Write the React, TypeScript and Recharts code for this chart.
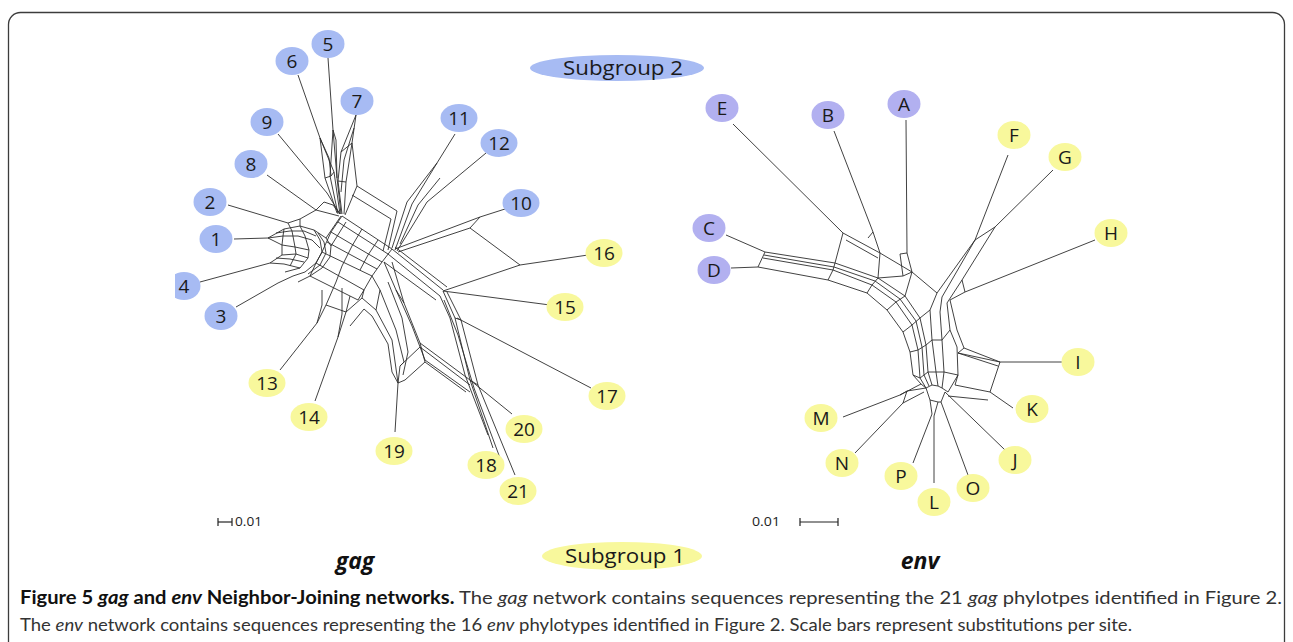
import React from 'react';
import { ScatterChart, Scatter, XAxis, YAxis } from 'recharts';

type P = [number, number];
type NodeRow = { label: string; x: number; y: number; group: string };

// ---- node (phylotype) positions, in figure units ----
const gagNodes: NodeRow[] = [
  { label: '5', x: 328, y: 44, group: 'gag2' },
  { label: '6', x: 292, y: 61, group: 'gag2' },
  { label: '7', x: 357, y: 101, group: 'gag2' },
  { label: '9', x: 267, y: 122, group: 'gag2' },
  { label: '11', x: 459, y: 118, group: 'gag2' },
  { label: '8', x: 251, y: 164, group: 'gag2' },
  { label: '12', x: 499, y: 143, group: 'gag2' },
  { label: '10', x: 521, y: 203, group: 'gag2' },
  { label: '2', x: 210, y: 202, group: 'gag2' },
  { label: '1', x: 216, y: 239, group: 'gag2' },
  { label: '4', x: 184, y: 286, group: 'gag2' },
  { label: '3', x: 221, y: 316, group: 'gag2' },
  { label: '16', x: 604, y: 253, group: 'sub1' },
  { label: '15', x: 565, y: 307, group: 'sub1' },
  { label: '13', x: 267, y: 383, group: 'sub1' },
  { label: '17', x: 607, y: 396, group: 'sub1' },
  { label: '14', x: 309, y: 417, group: 'sub1' },
  { label: '20', x: 524, y: 429, group: 'sub1' },
  { label: '19', x: 394, y: 451, group: 'sub1' },
  { label: '18', x: 486, y: 465, group: 'sub1' },
  { label: '21', x: 518, y: 491, group: 'sub1' },
];

const envNodes: NodeRow[] = [
  { label: 'E', x: 722, y: 108, group: 'env2' },
  { label: 'B', x: 828, y: 115, group: 'env2' },
  { label: 'A', x: 904, y: 104, group: 'env2' },
  { label: 'C', x: 709, y: 228, group: 'env2' },
  { label: 'D', x: 714, y: 270, group: 'env2' },
  { label: 'F', x: 1014, y: 135, group: 'sub1' },
  { label: 'G', x: 1065, y: 157, group: 'sub1' },
  { label: 'H', x: 1111, y: 233, group: 'sub1' },
  { label: 'I', x: 1078, y: 362, group: 'sub1' },
  { label: 'K', x: 1032, y: 409, group: 'sub1' },
  { label: 'M', x: 821, y: 418, group: 'sub1' },
  { label: 'J', x: 1015, y: 460, group: 'sub1' },
  { label: 'N', x: 842, y: 463, group: 'sub1' },
  { label: 'P', x: 901, y: 476, group: 'sub1' },
  { label: 'O', x: 973, y: 488, group: 'sub1' },
  { label: 'L', x: 934, y: 502, group: 'sub1' },
];

// ---- network edges (polylines) ----
const gagLinks: P[][] = [
  [[328, 58], [333, 130], [337, 178], [341, 214]],
  [[333, 130], [330, 176], [338, 214]],
  [[333, 130], [336, 140], [337, 178]],
  [[298, 75], [320, 138], [334, 172], [340, 214]],
  [[320, 138], [325, 178], [337, 213]],
  [[320, 138], [329, 158], [331, 176]],
  [[325, 178], [331, 176], [334, 172]],
  [[356, 115], [341, 152], [338, 181], [342, 214]],
  [[356, 115], [352, 143], [346, 182], [344, 214]],
  [[354, 128], [344, 160], [341, 192]],
  [[341, 152], [352, 143]],
  [[338, 181], [346, 182]],
  [[352, 143], [357, 186], [345, 215]],
  [[357, 186], [397, 211], [388, 250]],
  [[352, 195], [391, 219], [383, 251]],
  [[278, 134], [327, 193], [340, 214]],
  [[267, 175], [316, 210], [339, 216]],
  [[316, 210], [324, 202], [333, 205], [340, 214]],
  [[228, 205], [288, 223], [300, 219], [316, 210]],
  [[234, 239], [268, 238]],
  [[200, 282], [270, 263]],
  [[236, 307], [278, 283], [293, 276]],
  [[268, 238], [284, 229], [300, 226], [314, 230], [326, 238]],
  [[268, 238], [283, 236], [298, 236], [312, 240], [320, 248]],
  [[268, 238], [282, 245], [295, 247], [309, 250]],
  [[270, 263], [282, 255], [296, 254], [308, 258]],
  [[270, 263], [284, 264], [300, 268]],
  [[276, 233], [290, 231], [304, 231], [316, 236]],
  [[276, 258], [290, 259], [304, 262]],
  [[288, 223], [292, 231], [295, 247], [296, 254], [290, 266]],
  [[300, 219], [300, 226], [305, 236], [309, 250], [308, 258], [300, 268], [285, 272]],
  [[314, 230], [320, 240], [322, 252], [316, 263], [305, 272], [293, 276]],
  [[318, 233], [324, 242], [326, 253], [320, 265], [308, 274]],
  [[326, 238], [331, 246], [330, 257], [322, 268], [310, 276], [298, 282]],
  [[284, 229], [283, 236], [282, 245], [282, 255]],
  [[326, 238], [341, 216]],
  [[331, 246], [346, 222]],
  [[342, 216], [392, 249]],
  [[338, 222], [388, 254]],
  [[331, 232], [382, 262]],
  [[327, 242], [377, 269]],
  [[322, 252], [372, 276]],
  [[316, 263], [364, 290]],
  [[310, 276], [358, 300]],
  [[342, 216], [331, 232], [322, 252], [316, 263], [310, 276]],
  [[362, 229], [352, 246], [342, 266], [336, 282]],
  [[392, 249], [382, 262], [372, 276], [364, 290], [358, 300]],
  [[378, 240], [368, 255], [360, 270]],
  [[392, 249], [443, 290]],
  [[388, 254], [440, 296]],
  [[384, 262], [436, 300]],
  [[395, 247], [447, 287]],
  [[455, 134], [437, 163], [407, 202], [392, 248]],
  [[437, 163], [412, 204], [395, 250]],
  [[486, 153], [427, 202], [397, 251]],
  [[440, 178], [418, 205], [400, 244]],
  [[505, 209], [480, 217], [470, 228], [520, 265]],
  [[480, 217], [395, 249]],
  [[470, 228], [398, 252]],
  [[588, 255], [520, 265], [443, 291]],
  [[550, 305], [443, 291]],
  [[591, 388], [457, 318]],
  [[443, 291], [455, 318], [470, 380], [493, 448]],
  [[447, 292], [461, 320], [478, 385], [515, 475]],
  [[440, 296], [450, 318], [465, 375], [488, 435]],
  [[444, 300], [458, 335], [474, 388], [500, 458]],
  [[455, 318], [461, 320]],
  [[470, 380], [478, 385]],
  [[512, 414], [470, 380], [420, 343], [404, 303], [392, 262]],
  [[470, 392], [425, 360], [412, 326], [396, 290], [384, 262]],
  [[395, 432], [398, 383], [400, 366], [420, 347], [470, 385]],
  [[398, 383], [405, 380], [425, 362], [466, 392]],
  [[400, 366], [404, 362], [396, 330], [380, 290], [372, 276]],
  [[403, 375], [408, 352], [402, 318], [388, 282]],
  [[420, 343], [425, 362]],
  [[404, 303], [396, 290]],
  [[280, 370], [317, 323], [326, 305], [336, 282]],
  [[317, 323], [322, 305], [322, 290]],
  [[315, 401], [338, 337], [346, 312], [350, 296]],
  [[338, 337], [342, 314], [342, 288]],
  [[346, 312], [362, 298], [376, 310], [392, 340], [398, 383]],
  [[350, 326], [364, 309], [372, 316], [388, 344], [392, 372], [398, 383]],
  [[362, 298], [364, 290]],
  [[376, 310], [380, 290]],
  [[326, 305], [346, 312]],
];

const envLinks: P[][] = [
  [[733, 124], [843, 233]],
  [[834, 131], [873, 232], [880, 253]],
  [[873, 232], [868, 238]],
  [[906, 120], [907, 253], [912, 272], [937, 293]],
  [[900, 254], [907, 253]],
  [[900, 254], [903, 276], [912, 272]],
  [[726, 235], [765, 252]],
  [[731, 268], [758, 267]],
  [[765, 252], [758, 267]],
  [[758, 267], [828, 280], [867, 293], [887, 310], [903, 332], [910, 352], [913, 375], [921, 384]],
  [[763, 258], [833, 270], [872, 285], [896, 302], [912, 325], [918, 350], [920, 378], [926, 388]],
  [[764, 255], [834, 267], [875, 281], [900, 299], [916, 321], [922, 347], [924, 375], [929, 386]],
  [[765, 252], [835, 263], [878, 278], [905, 296], [920, 318], [926, 345], [928, 372], [932, 385]],
  [[937, 293], [930, 310], [932, 340], [936, 372], [938, 386]],
  [[942, 297], [940, 312], [942, 340], [944, 372], [942, 388]],
  [[947, 303], [950, 330], [957, 347], [958, 375], [948, 392]],
  [[950, 300], [957, 330], [964, 348], [1000, 362]],
  [[828, 280], [833, 270], [835, 263], [843, 233]],
  [[867, 293], [872, 285], [878, 278], [880, 253]],
  [[887, 310], [896, 302], [905, 296], [912, 272]],
  [[903, 332], [912, 325], [920, 318], [930, 310]],
  [[910, 352], [918, 350], [926, 345], [932, 340], [942, 340], [950, 330]],
  [[913, 375], [920, 378], [928, 372], [936, 372], [944, 372], [958, 375]],
  [[843, 233], [880, 253], [912, 272]],
  [[846, 240], [878, 258]],
  [[878, 278], [903, 276]],
  [[1008, 155], [975, 240], [937, 293]],
  [[975, 240], [942, 297]],
  [[1053, 170], [995, 227], [962, 280], [947, 303]],
  [[975, 240], [995, 227]],
  [[1095, 240], [965, 292], [950, 300]],
  [[962, 280], [965, 292]],
  [[964, 348], [958, 353], [1000, 362], [1065, 362]],
  [[958, 353], [998, 366]],
  [[1000, 362], [990, 392]],
  [[955, 385], [990, 392], [1013, 408]],
  [[958, 375], [955, 385]],
  [[948, 396], [988, 400]],
  [[843, 417], [900, 395], [921, 384]],
  [[900, 395], [907, 391], [926, 388]],
  [[855, 453], [903, 403], [924, 392]],
  [[903, 403], [907, 391]],
  [[913, 463], [932, 414], [930, 400]],
  [[934, 483], [934, 416], [938, 402]],
  [[968, 475], [941, 402]],
  [[1005, 450], [945, 392]],
  [[921, 384], [926, 388], [932, 385], [938, 386], [942, 388], [948, 392]],
  [[926, 388], [930, 400], [938, 402], [941, 402], [945, 392]],
];

const groupFill: Record<string, string> = {
  gag2: '#a7bbf3',
  env2: '#b2b0f0',
  sub1: '#f8f89c',
};

const toPts = (l: P[]) => l.map(([x, y]) => ({ x, y }));
const nodeData = (rows: NodeRow[]) => rows.map((r) => ({ ...r, fill: groupFill[r.group] }));

const Empty = () => <g />;

const NodeShape = (props: any) => {
  const { cx, cy, payload } = props;
  const rx = payload.label.length > 1 ? 18.5 : 16.5;
  return (
    <g>
      <ellipse cx={cx} cy={cy} rx={rx} ry={14} fill={payload.fill} />
      <text
        x={cx}
        y={cy}
        dy="0.36em"
        textAnchor="middle"
        fontFamily="Open Sans"
        fontSize={19}
        fill="#1a1a1a"
      >
        {payload.label}
      </text>
    </g>
  );
};

const lineStyle = { stroke: '#2d2d2d', strokeWidth: 0.9 };

const captionFont = 'Lato, "Open Sans", sans-serif';

export default function App() {
  const links = [...gagLinks, ...envLinks];
  return (
    <div style={{ position: 'absolute', left: 0, top: 0, width: 1293, height: 642, background: '#fff', overflow: 'hidden' }}>
      <ScatterChart width={1293} height={642} margin={{ top: 0, right: 0, bottom: 0, left: 0 }}>
        <XAxis type="number" dataKey="x" domain={[0, 1293]} hide allowDataOverflow />
        <YAxis type="number" dataKey="y" domain={[0, 642]} reversed hide allowDataOverflow />
        {links.map((l, i) => (
          <Scatter
            key={'l' + i}
            data={toPts(l)}
            line={lineStyle}
            shape={Empty}
            isAnimationActive={false}
            legendType="none"
          />
        ))}
        <Scatter data={nodeData(gagNodes)} shape={NodeShape} isAnimationActive={false} legendType="none" />
        <Scatter data={nodeData(envNodes)} shape={NodeShape} isAnimationActive={false} legendType="none" />
      </ScatterChart>
      <svg width={1293} height={642} style={{ position: 'absolute', left: 0, top: 0 }}>
        <rect x={160} y={268} width={15} height={36} fill="#fff" />
        <rect x={8.5} y={12.5} width={1276} height={700} rx={12} fill="none" stroke="#3c3c3c" strokeWidth={1.3} />
        <ellipse cx={617} cy={68} rx={87} ry={13} fill="#a7bbf3" />
        <text x={623} y={68} dy="0.36em" textAnchor="middle" fontFamily="Open Sans" fontSize={20} fill="#1a1a1a" textLength={120} lengthAdjust="spacingAndGlyphs">Subgroup 2</text>
        <ellipse cx={622} cy={556} rx={80} ry={14} fill="#f8f89c" />
        <text x={625} y={556} dy="0.36em" textAnchor="middle" fontFamily="Open Sans" fontSize={20} fill="#1a1a1a" textLength={120} lengthAdjust="spacingAndGlyphs">Subgroup 1</text>
        <text x={355} y={569} textAnchor="middle" fontFamily="Open Sans" fontSize={23} fontWeight="bold" fontStyle="italic" fill="#111">gag</text>
        <text x={920} y={569} textAnchor="middle" fontFamily="Open Sans" fontSize={23} fontWeight="bold" fontStyle="italic" fill="#111">env</text>
        <g stroke="#222" strokeWidth={1.2}>
          <line x1={218} y1={522} x2={232} y2={522} />
          <line x1={218} y1={518} x2={218} y2={526} />
          <line x1={232} y1={518} x2={232} y2={526} />
          <line x1={800} y1={522} x2={838} y2={522} />
          <line x1={800} y1={518} x2={800} y2={526} />
          <line x1={838} y1={518} x2={838} y2={526} />
        </g>
        <text x={235} y={526} fontFamily="Open Sans" fontSize={12} fill="#222" textLength={27} lengthAdjust="spacingAndGlyphs">0.01</text>
        <text x={752} y={526} fontFamily="Open Sans" fontSize={12} fill="#222" textLength={28} lengthAdjust="spacingAndGlyphs">0.01</text>
        <text x={20} y={604} fontFamily={captionFont} fontSize={18} fill="#333" textLength={1262} lengthAdjust="spacingAndGlyphs">
          <tspan fontWeight="bold" fill="#111">Figure 5 </tspan>
          <tspan fontWeight="bold" fontStyle="italic" fill="#111">gag</tspan>
          <tspan fontWeight="bold" fill="#111"> and </tspan>
          <tspan fontWeight="bold" fontStyle="italic" fill="#111">env</tspan>
          <tspan fontWeight="bold" fill="#111"> Neighbor-Joining networks.</tspan>
          <tspan> The </tspan>
          <tspan fontStyle="italic">gag</tspan>
          <tspan> network contains sequences representing the 21 </tspan>
          <tspan fontStyle="italic">gag</tspan>
          <tspan> phylotpes identified in Figure 2.</tspan>
        </text>
        <text x={20} y={631} fontFamily={captionFont} fontSize={18} fill="#333" textLength={1112} lengthAdjust="spacingAndGlyphs">
          <tspan>The </tspan>
          <tspan fontStyle="italic">env</tspan>
          <tspan> network contains sequences representing the 16 </tspan>
          <tspan fontStyle="italic">env</tspan>
          <tspan> phylotypes identified in Figure 2. Scale bars represent substitutions per site.</tspan>
        </text>
      </svg>
    </div>
  );
}
